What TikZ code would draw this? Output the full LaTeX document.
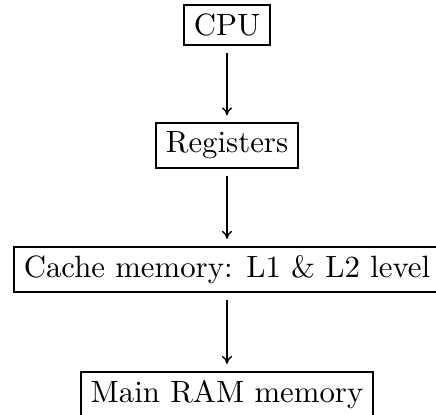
\documentclass[tikz,border=0pt]{standalone}
\usetikzlibrary{arrows.meta}
\begin{document}
\begin{tikzpicture}[
  memnode/.style={draw, line width=0.65pt, inner xsep=3.2pt, inner ysep=2.8pt, rectangle},
  flow/.style={-{Computer Modern Rightarrow[length=2.6pt,width=3.3pt]}, line width=0.45pt, shorten <=2.2pt, shorten >=2.2pt}
]
\useasboundingbox (0pt,0pt) rectangle (141.56pt,-134.42pt);
\node[memnode] (cpu)   at (73.7pt,-8.12pt)  {CPU};
\node[memnode] (reg)   at (73.7pt,-47.24pt) {Registers};
\node[memnode] (cache) at (73.7pt,-87.5pt)  {Cache memory: L1 \& L2 level};
\node[memnode] (ram)   at (73.7pt,-128.1pt) {Main RAM memory};
\draw[flow] (cpu) -- (reg);
\draw[flow] (reg) -- (cache);
\draw[flow] (cache) -- (ram);
\end{tikzpicture}
\end{document}
